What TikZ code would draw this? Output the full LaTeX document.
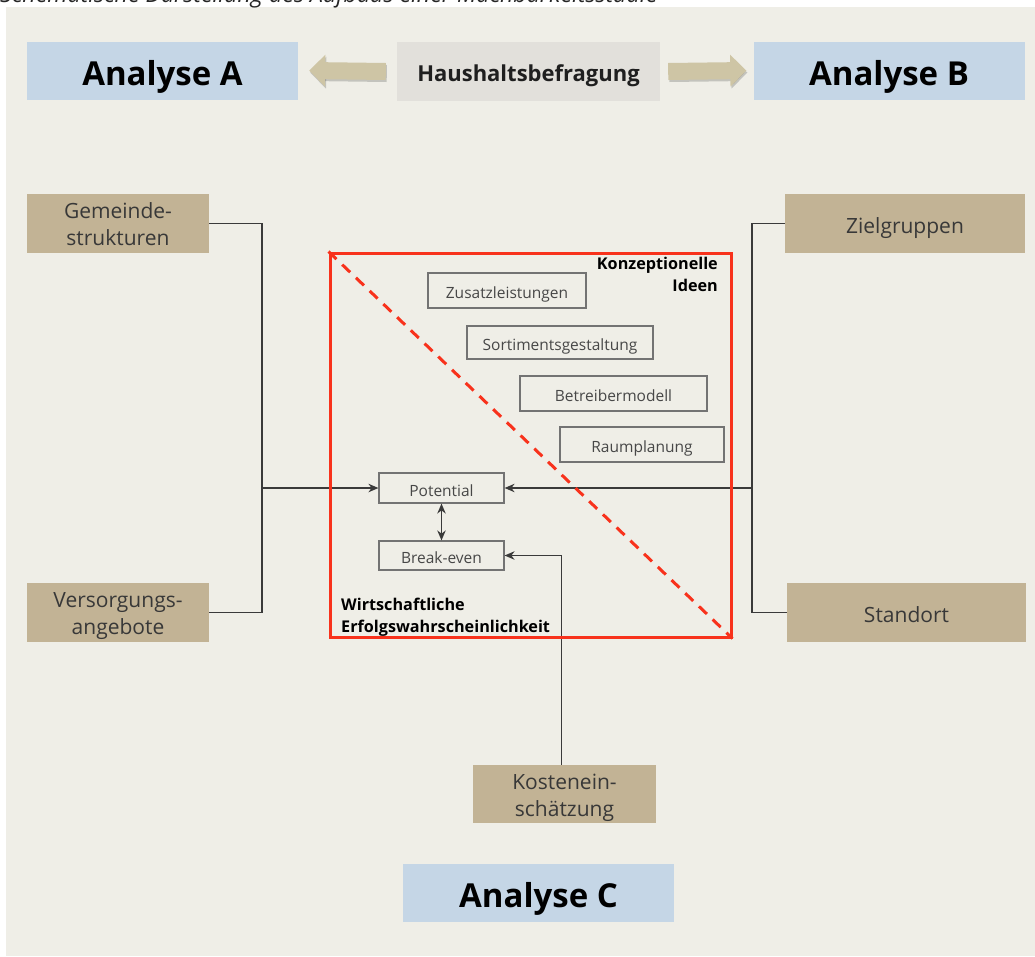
\documentclass[tikz,border=0pt]{standalone}
\usepackage{fontspec}
\setmainfont{Open Sans}
\usetikzlibrary{arrows.meta}
\definecolor{grund}{HTML}{EFEEE7}
\definecolor{analyseblau}{HTML}{C5D6E6}
\definecolor{kopfgrau}{HTML}{E2E0DB}
\definecolor{pfeilbeige}{HTML}{CEC5A5}
\definecolor{braun}{HTML}{C2B395}
\definecolor{rahmenrot}{HTML}{F8321C}
\definecolor{linie}{HTML}{3A3A3A}

\begin{document}
\begin{tikzpicture}[x=1pt,y=-1pt,>={Stealth[length=10pt,width=8.5pt]},
    analyse/.style={fill=analyseblau,minimum width=271pt,minimum height=58pt,inner sep=0pt,text height=29pt,text depth=0pt,font=\fontsize{33}{38}\selectfont\bfseries},
    faktor/.style={fill=braun,minimum height=59pt,inner sep=0pt,align=center,text=black!78,font=\fontsize{21}{27}\selectfont},
    einzeilig/.style={text height=20pt,text depth=0pt},
    zweizeilig/.style={text height=44pt,text depth=0pt},
    idee/.style={draw=black!55,line width=1.2pt,fill=grund,inner sep=0pt,text height=16pt,text depth=0pt,text=black!72,font=\fontsize{15.5}{18}\selectfont},
    verbinder/.style={draw=linie,line width=1.3pt},
    pfeil/.style={line width=17pt,draw=pfeilbeige,-{Triangle[length=16pt,width=31pt]}},
    pfeilschatten/.style={line width=17pt,draw=black,opacity=0.18,-{Triangle[length=16pt,width=31pt]}},
    titel/.style={inner sep=0pt,font=\fontsize{16.2}{22}\selectfont\bfseries}]
                \useasboundingbox (0,0) rectangle (1035,956);
                \clip (0,0) rectangle (1035,956);
                \fill[grund] (6,7) rectangle (1035,956);
                \node[anchor=base west,inner sep=0pt,text=black!85,font=\fontsize{23.2}{26}\selectfont\itshape](ueberschrift)at(0, 2.5){Schematische Darstellung des Aufbaus einer Machbarkeitsstudie};
                % Kopfzeile
                \node[analyse](analyseA)at(162.5, 70.5){Analyse A};
                \node[analyse](analyseB)at(889, 70.5){Analyse B};
                \node[fill=kopfgrau,minimum width=263pt,minimum height=59pt,inner sep=0pt,text height=20pt,text depth=0pt,text=black!88,font=\fontsize{22}{26}\selectfont\bfseries](haushalt)at(528.5, 71.5){Haushaltsbefragung};
                \draw[pfeilschatten] ([xshift=-10pt,yshift=-2pt]haushalt.west) -- ([xshift=12pt,yshift=-2pt]analyseA.east);
                \draw[pfeilschatten] ([xshift=9pt,yshift=-2pt]haushalt.east) -- ([xshift=-6pt,yshift=-2pt]analyseB.west);
                \draw[pfeil] ([xshift=-11pt]haushalt.west) -- ([xshift=11pt]analyseA.east);
                \draw[pfeil] ([xshift=8pt]haushalt.east) -- ([xshift=-7pt]analyseB.west);
                % Faktoren
                \node[faktor,zweizeilig,minimum width=182pt](gemeinde)at(118, 223.5){Gemeinde-\\strukturen};
                \node[faktor,zweizeilig,minimum width=182pt](versorgung)at(118, 612.5){Versorgungs-\\angebote};
                \node[faktor,einzeilig,minimum width=240pt](zielgruppen)at(905, 223.5){Zielgruppen};
                \node[faktor,einzeilig,minimum width=239pt](standort)at(906.5, 612.5){Standort};
                \node[faktor,zweizeilig,minimum width=183pt,minimum height=58pt](kosten)at(564.5, 794){Kostenein-\\schätzung};
                \node[analyse](analyseC)at(538.5, 893){Analyse C};
                % Ideen und Ergebnis
                \node[idee,minimum width=158pt,minimum height=35pt](zusatz)at(507, 290.5){Zusatzleistungen};
                \node[idee,minimum width=186pt,minimum height=33pt](sortiment)at(560, 342.5){Sortimentsgestaltung};
                \node[idee,minimum width=187pt,minimum height=35pt](betreiber)at(613.5, 393.5){Betreibermodell};
                \node[idee,minimum width=164pt,minimum height=35pt](raum)at(642, 444.5){Raumplanung};
                \node[idee,minimum width=125pt,minimum height=30pt](potential)at(441.5, 488){Potential};
                \node[idee,minimum width=125pt,minimum height=29pt](breakeven)at(441.5, 555.5){Break-even};
                \coordinate(linksknoten)at(262, 488);
                \coordinate(rechtsknoten)at(752, 488);
                \draw[verbinder] (gemeinde.east) -| (linksknoten) |- (versorgung.east);
                \draw[verbinder] (zielgruppen.west) -| (rechtsknoten) |- (standort.west);
                \draw[verbinder,->] (linksknoten) -- (potential.west);
                \draw[verbinder,->] (rechtsknoten) -- (potential.east);
                \draw[verbinder,<->] (potential.south) -- (breakeven.north);
                \draw[verbinder,->] ([xshift=-3pt]kosten.north) |- (breakeven.east);
                % Rahmen
                \node[draw=rahmenrot,line width=3pt,minimum width=401pt,minimum height=384pt,inner sep=0pt](rahmen)at(530.5, 445){};
                \draw[rahmenrot,line width=3pt,dash pattern=on 11pt off 8pt] (rahmen.north west) -- (rahmen.south east);
                \node[titel,anchor=north east,align=right](ideen)at(718, 256.5){Konzeptionelle\\Ideen};
                \node[titel,anchor=north west,align=left](erfolg)at(341, 597.5){Wirtschaftliche\\Erfolgswahrscheinlichkeit};
            \end{tikzpicture}
\end{document}
